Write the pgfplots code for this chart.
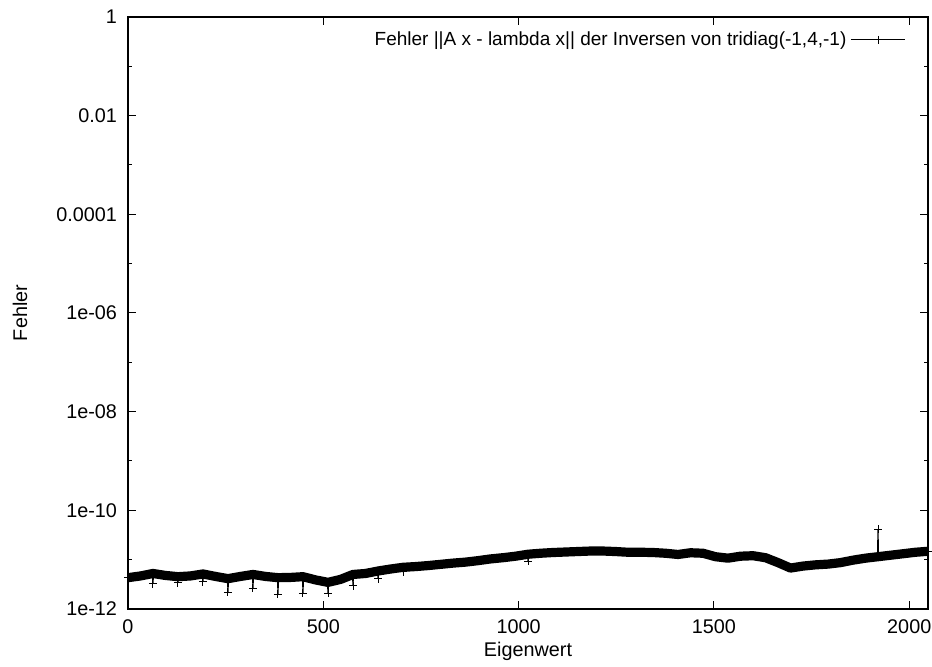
\documentclass[border=0pt]{standalone}
\usepackage{fontspec}
\setmainfont{Liberation Sans}
\usepackage{pgfplots}
\pgfplotsset{compat=1.18}
\begin{document}
\begin{tikzpicture}[font=\fontsize{9.9}{11.8}\selectfont]
\begin{axis}[name=ax,
  width=400pt, height=296pt, scale only axis,
  xmin=0, xmax=2048, ymin=1e-12, ymax=1, ymode=log,
  axis line style={line width=0.6pt},
  tick align=inside, major tick length=4pt, minor tick length=2pt,
  tick style={line width=0.5pt, black},
  xtick={0,500,1000,1500,2000}, xticklabels={0,500,1000,1500,2000},
  ytick={1e-12,1e-10,1e-8,1e-6,1e-4,1e-2,1},
  yticklabels={1e-12,1e-10,1e-08,1e-06,0.0001,0.01,1},
  minor ytick={1e-11,1e-9,1e-7,1e-5,1e-3,1e-1},
  xticklabel style={yshift=-2pt},
  yticklabel style={xshift=-2pt},
  xlabel={Eigenwert}, ylabel={Fehler},
  xlabel style={at={(axis description cs:0.5,0)}, anchor=center, yshift=-21pt},
  ylabel style={at={(axis description cs:0,0.5)}, anchor=center, yshift=54pt},
  legend style={draw=none, fill=none, at={(rel axis cs:1,1)}, anchor=north east, xshift=-8pt, yshift=-3pt, font=\fontsize{9.5}{11.4}\selectfont},
  legend plot pos=right,
  legend image code/.code={\draw[mark repeat=2,mark phase=2] plot coordinates {(4pt,0pt) (17.5pt,0pt) (31pt,0pt)};},
]
% thick band
\addplot[black, line width=4.6pt, line join=round, no marks, forget plot] coordinates {
(0,4.315e-12) (32,4.677e-12) (64,5.248e-12) (96,4.786e-12) (128,4.519e-12) (160,4.677e-12)
(192,5.129e-12) (224,4.571e-12) (256,4.121e-12) (288,4.571e-12) (320,5.012e-12) (352,4.571e-12)
(384,4.315e-12) (416,4.365e-12) (448,4.519e-12) (480,3.890e-12) (512,3.467e-12) (544,3.981e-12)
(576,5.012e-12) (608,5.248e-12) (640,5.888e-12) (672,6.457e-12) (704,6.998e-12) (736,7.244e-12)
(768,7.586e-12) (800,8.035e-12) (832,8.511e-12) (864,8.913e-12) (896,9.550e-12) (928,1.035e-11)
(960,1.096e-11) (992,1.175e-11) (1024,1.288e-11) (1056,1.349e-11) (1088,1.396e-11) (1120,1.429e-11)
(1152,1.462e-11) (1184,1.496e-11) (1216,1.496e-11) (1248,1.462e-11) (1280,1.413e-11) (1312,1.413e-11)
(1344,1.396e-11) (1376,1.349e-11) (1408,1.274e-11) (1440,1.380e-11) (1472,1.349e-11) (1504,1.148e-11)
(1536,1.072e-11) (1568,1.175e-11) (1600,1.202e-11) (1632,1.096e-11) (1664,8.710e-12) (1696,6.761e-12)
(1728,7.413e-12) (1760,7.852e-12) (1792,8.128e-12) (1824,8.710e-12) (1856,9.772e-12) (1888,1.072e-11)
(1920,1.148e-11) (1952,1.230e-11) (1984,1.318e-11) (2016,1.413e-11) (2048,1.479e-11)
};
% thin line with marks and outliers
\addplot[black, line width=0.6pt, mark=+, mark size=2pt, mark options={line width=0.5pt}] coordinates {
(0,4.315e-12) (32,4.677e-12) (63,5.248e-12) (64,3.266e-12) (65,5.248e-12) (96,4.786e-12)
(127,4.519e-12) (128,3.388e-12) (129,4.519e-12) (160,4.677e-12)
(191,5.129e-12) (192,3.548e-12) (193,5.129e-12) (224,4.571e-12)
(255,4.121e-12) (256,2.188e-12) (257,4.121e-12) (288,4.571e-12)
(319,5.012e-12) (320,2.630e-12) (321,5.012e-12) (352,4.571e-12)
(383,4.315e-12) (384,1.995e-12) (385,4.315e-12) (416,4.365e-12)
(447,4.519e-12) (448,2.089e-12) (449,4.519e-12) (480,3.890e-12)
(511,3.467e-12) (512,2.089e-12) (513,3.467e-12) (544,3.981e-12)
(575,5.012e-12) (576,2.951e-12) (577,5.012e-12) (608,5.248e-12)
(639,5.888e-12) (640,4.074e-12) (641,5.888e-12) (672,6.457e-12)
(703,6.998e-12) (704,5.623e-12) (705,6.998e-12) (736,7.244e-12)
(768,7.586e-12) (800,8.035e-12) (832,8.511e-12) (864,8.913e-12) (896,9.550e-12) (928,1.035e-11)
(960,1.096e-11) (992,1.175e-11) (1023,1.288e-11) (1024,9.333e-12) (1025,1.288e-11) (1056,1.349e-11) (1088,1.396e-11) (1120,1.429e-11)
(1152,1.462e-11) (1184,1.496e-11) (1216,1.496e-11) (1248,1.462e-11) (1280,1.413e-11) (1312,1.413e-11)
(1344,1.396e-11) (1376,1.349e-11) (1408,1.274e-11) (1440,1.380e-11) (1472,1.349e-11) (1504,1.148e-11)
(1536,1.072e-11) (1568,1.175e-11) (1600,1.202e-11) (1632,1.096e-11) (1664,8.710e-12) (1696,6.761e-12)
(1728,7.413e-12) (1760,7.852e-12) (1792,8.128e-12) (1824,8.710e-12) (1856,9.772e-12) (1888,1.072e-11)
(1919,1.148e-11) (1920,4.169e-11) (1921,1.148e-11) (1952,1.230e-11) (1984,1.318e-11) (2016,1.413e-11) (2048,1.479e-11)
};
\addlegendentry{Fehler ||A x - lambda x|| der Inversen von tridiag(-1,4,-1)}
\end{axis}
\pgfresetboundingbox
\path ([xshift=-64pt,yshift=-29pt]ax.south west) rectangle ([xshift=2pt,yshift=8.5pt]ax.north east);
\end{tikzpicture}
\end{document}
